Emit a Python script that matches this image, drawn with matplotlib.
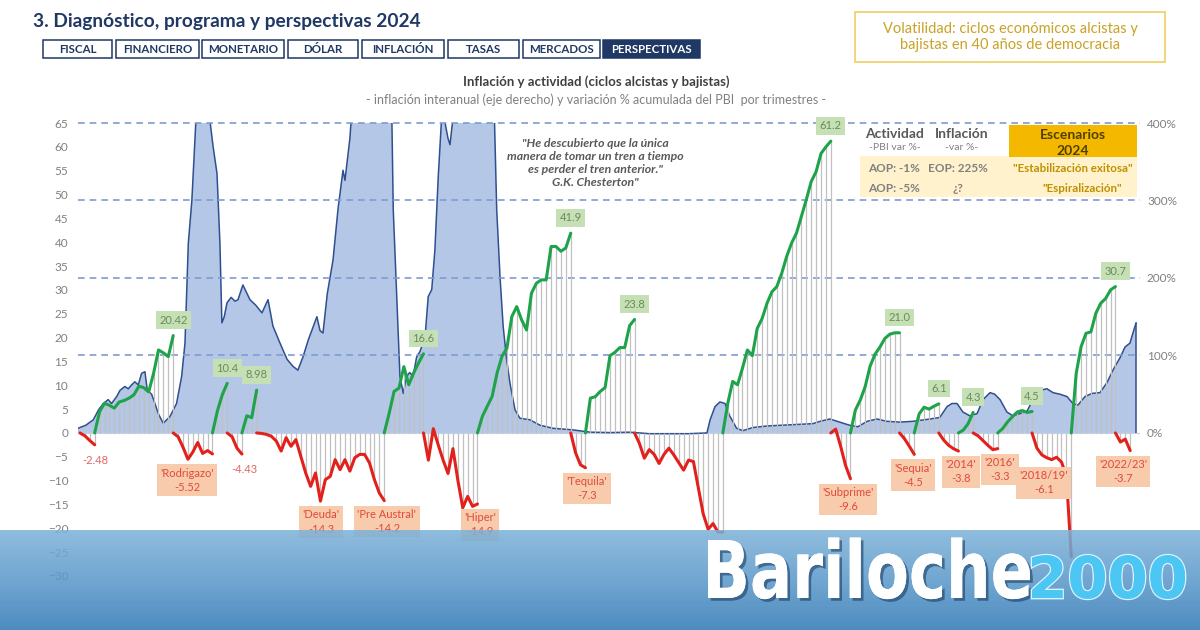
import matplotlib
matplotlib.use("Agg")
import matplotlib.pyplot as plt
import matplotlib.patheffects as pe
from matplotlib.patches import Rectangle, PathPatch
from matplotlib.colors import LinearSegmentedColormap
from matplotlib.textpath import TextPath
from matplotlib.font_manager import FontProperties
from matplotlib.transforms import Affine2D
from matplotlib import font_manager
import numpy as np

# inflacion interanual (%), eje derecho (valores > 400 quedan cortados)
infl_t = [1969.9, 1970.3, 1970.68, 1970.95, 1971.19, 1971.44, 1971.61, 1971.87, 1972.04, 1972.29,
          1972.46, 1972.63, 1972.8, 1972.97, 1973.14, 1973.31, 1973.43, 1973.65, 1973.82, 1973.99,
          1974.24, 1974.58, 1974.92, 1975.18, 1975.35, 1975.52, 1975.7, 1975.94, 1976.2, 1976.54,
          1976.78, 1976.98, 1977.13, 1977.23, 1977.35, 1977.49, 1977.7, 1977.9, 1978.05, 1978.3,
          1978.66, 1978.95, 1979.27, 1979.58, 1979.83, 1980.19, 1980.55, 1980.85, 1981.1, 1981.36,
          1981.63, 1982.07, 1982.23, 1982.38, 1982.6, 1982.89, 1983.15, 1983.4, 1983.5, 1983.75,
          1983.86, 1984.5, 1985.3, 1985.88, 1985.96, 1986.13, 1986.3, 1986.47, 1986.64, 1986.8,
          1986.97, 1987.15, 1987.32, 1987.58, 1987.74, 1987.92, 1988.08, 1988.25, 1988.43, 1988.6,
          1988.75, 1988.85, 1988.95, 1989.1, 1989.6, 1990.4, 1991.1, 1991.23, 1991.4, 1991.56,
          1991.74, 1991.9, 1992.16, 1992.41, 1992.92, 1993.43, 1994.1, 1995.1, 1996.0, 1997.0,
          1998.0, 1999.0, 2000.0, 2001.0, 2001.94, 2002.1, 2002.35, 2002.6, 2002.86, 2003.1,
          2003.45, 2003.77, 2004.28, 2005.0, 2005.8, 2006.68, 2007.34, 2007.7, 2008.2, 2008.7,
          2009.2, 2009.63, 2010.1, 2010.6, 2011.1, 2011.77, 2012.43, 2013.3, 2013.8, 2014.17,
          2014.42, 2014.68, 2014.98, 2015.34, 2015.7, 2016.0, 2016.36, 2016.6, 2016.87, 2017.22,
          2017.53, 2017.89, 2018.24, 2018.55, 2018.9, 2019.26, 2019.57, 2019.92, 2020.28, 2020.58,
          2020.84, 2021.2, 2021.55, 2021.96, 2022.32, 2022.62, 2022.98, 2023.24, 2023.49, 2023.64,
          2023.8]
infl_v = [6, 10, 17, 30, 38, 43, 38, 47, 55, 60,
          57, 62, 66, 62, 77, 79, 55, 50, 38, 25,
          12.5, 21, 38, 73, 116, 245, 300, 420, 600, 420,
          370, 335, 245, 142, 150, 168, 175, 170, 172, 191,
          172, 165, 155, 172, 138, 116, 95, 86, 81, 98,
          120, 150, 132, 129, 180, 223, 290, 339, 326, 380,
          420, 700, 900, 420, 288, 180, 73, 51, 73, 78,
          73, 98, 105, 124, 176, 185, 236, 330, 410, 400,
          380, 372, 395, 420, 3000, 1300, 420, 288, 201, 137,
          94, 65, 30, 19, 17, 10, 6, 4, 1, 0.5,
          1, -1, -1, -1, 0, 17, 34, 40, 38, 22,
          6, 3, 7, 9, 10, 11, 12, 15, 18, 14,
          10, 8, 15, 18, 15, 14, 15, 18, 20, 34,
          38, 38, 27, 22, 25, 43, 52, 50, 43, 27,
          22, 25, 28, 43, 55, 57, 52, 50, 47, 38,
          36, 47, 51, 52, 65, 81, 97, 111, 116, 129,
          142]

# ciclos de actividad: var % acumulada del PBI, trimestral (a = alcista, b = bajista)
cyc_start = [1970.0, 1970.75, 1974.75, 1976.75, 1977.5, 1978.25, 1979.0, 1985.5, 1987.5, 1990.25,
             1995.0, 1995.75, 1998.25, 2002.75, 2008.25, 2009.25, 2011.75, 2012.5, 2013.75, 2014.75,
             2015.5, 2016.75, 2018.5, 2020.5, 2022.75]
cyc_kind = ["b", "a", "b", "a", "b", "a", "b", "a", "b", "a",
            "b", "a", "b", "a", "b", "a", "b", "a", "b", "a",
            "b", "a", "b", "a", "b"]
cyc_vals = [
    [0, -0.6, -1.6, -2.48],
    [0, 4.5, 6.2, 5.8, 5.2, 6.5, 6.8, 7.3, 8.0, 9.8, 9.5, 8.6, 12.5, 17.4, 16.8, 16.0, 20.42],
    [0, -0.8, -3.0, -5.52, -4.0, -2.0, -4.3, -3.7, -4.4],
    [0, 4.6, 8.0, 10.4],
    [0, -0.8, -3.2, -4.43],
    [0, 3.6, 3.2, 8.98],
    [0, -0.1, -0.3, -0.7, -1.7, -3.8, -1.0, -2.8, -1.4, -4.9, -8.4, -11.2, -8.4, -14.3,
     -9.8, -9.1, -5.6, -7.7, -5.6, -8.0, -5.2, -4.5, -4.5, -6.3, -9.8, -12.6, -14.2],
    [0, 4.1, 8.7, 9.4, 13.9, 10.1, 12.6, 14.7, 16.6],
    [0, -5.7, 0.9, -2.5, -5.7, -8.5, -3.3, -9.9, -15.7, -13.3, -15.4, -14.9],
    [0, 3.5, 5.6, 7.7, 12.6, 16.1, 17.8, 24.4, 26.5, 23.7, 21.6, 29.3, 31.4, 32.1, 32.1,
     39.1, 39.1, 38.1, 38.8, 41.9],
    [0, -4.2, -6.7, -7.3],
    [0, 7.3, 7.6, 8.7, 9.5, 16.2, 16.9, 17.9, 17.9, 22.5, 23.8],
    [0, -2.2, -5.3, -3.5, -4.5, -6.4, -4.5, -3.2, -4.6, -6.2, -7.8, -5.7, -6.0, -11.5,
     -17.0, -20.2, -19.0, -20.8, -20.8],
    [0, 6.2, 10.8, 10.1, 13.6, 17.4, 16.2, 21.9, 24.0, 27.2, 29.6, 30.7, 33.5, 37.0, 39.8,
     41.9, 45.4, 48.9, 52.7, 54.8, 58.6, 60.0, 61.2],
    [0, 0.8, -2.8, -6.8, -9.6],
    [0, 4.8, 6.9, 9.7, 14.0, 16.5, 18.0, 19.8, 20.7, 21.0, 21.0],
    [0, -1.2, -2.8, -4.5],
    [0, 4.0, 5.4, 5.0, 5.6, 6.1],
    [0, -1.5, -2.6, -3.3, -3.8],
    [0, 0.6, 2.0, 4.3],
    [0, -0.6, -1.6, -2.6, -3.5, -3.3],
    [0, 0.9, 2.3, 3.4, 4.4, 4.7, 4.3, 4.5],
    [0, -3.2, -4.6, -5.2, -5.6, -5.1, -6.1, -9.0, -26.0],
    [0, 12.5, 18.1, 20.9, 21.2, 25.1, 27.2, 28.2, 30.0, 30.7],
    [0, -1.9, -1.3, -3.7],
]

# etiquetas de maximos (una por ciclo alcista)
up_labels = ["20.42", "10.4", "8.98", "16.6", "41.9", "23.8", "61.2", "21.0", "6.1", "4.3", "4.5", "30.7"]

# etiquetas de minimos
down_names = ["", "'Rodrigazo'", "", "'Deuda'", "'Pre Austral'", "'Hiper'", "'Tequila'",
              "'Subprime'", "'Sequia'", "'2014'", "'2016'", "'2018/19'", "'2022/23'"]
down_vals = ["-2.48", "-5.52", "-4.43", "-14.3", "-14.2", "-14.9", "-7.3",
             "-9.6", "-4.5", "-3.8", "-3.3", "-6.1", "-3.7"]
down_t = [1970.76, 1975.45, 1978.4, 1982.28, 1985.64, 1990.38, 1995.83,
          2009.12, 2012.43, 2014.88, 2016.87, 2019.1, 2023.13]

tabs = ["FISCAL", "FINANCIERO", "MONETARIO", "DÓLAR", "INFLACIÓN", "TASAS", "MERCADOS", "PERSPECTIVAS"]
years = list(range(1970, 2024))

names = {f.name for f in font_manager.fontManager.ttflist}
base = "Lato" if "Lato" in names else "DejaVu Sans"
plt.rcParams["font.family"] = [base, "DejaVu Sans"]

NAVY = "#1f3864"
GRAY = "#808080"
GREEN = "#1fa34a"
RED = "#e3211c"

W, H = 1200, 630
fig = plt.figure(figsize=(12, 6.3), dpi=100)


def P(x, y):
    return x / W, 1 - y / H


def logo_word(txt, left, right, base_y, cap, color, effects, weight="bold"):
    # texto del logo como trazado, estirado al ancho del original
    tp = TextPath((0, 0), txt, size=1, prop=FontProperties(family="DejaVu Sans", weight=weight))
    ext = tp.get_extents()
    sx = (right - left) / ext.width
    sy = cap / 0.729
    tr = Affine2D().translate(-ext.x0, 0).scale(sx / W, sy / H).translate(left / W, 1 - base_y / H)
    patch = PathPatch(tp, transform=tr + fig.transFigure, fc=color, ec="none", zorder=20,
                      path_effects=effects)
    fig.add_artist(patch)


# ---------- cabecera ----------
fig.text(*P(33, 21), "3. Diagnóstico, programa y perspectivas 2024", fontsize=13.8,
         fontweight="bold", color=NAVY, va="center", ha="left")

tab_x = [43, 116, 202, 288, 362, 448, 523, 603]
tab_w = [69, 83, 82, 70, 82, 71, 77, 97]
for name, x0, w in zip(tabs, tab_x, tab_w):
    last = name == "PERSPECTIVAS"
    fig.patches.append(Rectangle(P(x0, 58), w / W, 18 / H, transform=fig.transFigure,
                                 fc=NAVY if last else "white", ec=NAVY, lw=1.1))
    fig.text(*P(x0 + w / 2, 49.5), name, fontsize=8.3, fontweight="bold",
             color="white" if last else NAVY, ha="center", va="center")

fig.patches.append(Rectangle(P(855, 62), 310 / W, 50 / H, transform=fig.transFigure,
                             fc="white", ec="#f0d36e", lw=1.3))
fig.text(*P(1010, 37), "Volatilidad: ciclos económicos alcistas y\nbajistas en 40 años de democracia",
         fontsize=10.5, color="#c9a227", ha="center", va="center", linespacing=1.25)

fig.text(*P(596, 82), "Inflación y actividad (ciclos alcistas y bajistas)", fontsize=9.5,
         fontweight="bold", color="#404040", ha="center", va="center")
fig.text(*P(596, 100), "- inflación interanual (eje derecho) y variación % acumulada del PBI  por trimestres -",
         fontsize=9, color=GRAY, ha="center", va="center")

# ---------- grafico ----------
x_lo, x_hi = 1969.9, 2024.0
ax2 = fig.add_axes([78 / W, 54 / H, 1062 / W, 453 / H])
ax = ax2.twinx()
ax.set_zorder(ax2.get_zorder() + 1)
ax.patch.set_visible(False)

ax.set_ylim(-30, 65)
ax2.set_ylim(-30 * 100 / 16.25, 400)
ax2.set_xlim(x_lo, x_hi)
ax.set_xlim(x_lo, x_hi)

ax2.fill_between(infl_t, 0, infl_v, color="#b4c7e7", lw=0, zorder=1)
ax2.plot(infl_t, infl_v, color="#2f4f8f", lw=1.1, zorder=2)
ax2.vlines(infl_t[-1], 0, infl_v[-1], color="#2f4f8f", lw=1.1, zorder=2)
for g in [100, 200, 300, 400]:
    ax2.axhline(g, color="#7f9bd1", lw=1.2, ls=(0, (4, 3)), zorder=3, clip_on=False)
ax2.axhline(0, color="#c5d0e6", lw=0.8, zorder=0)

ups = []
for start, kind, vals in zip(cyc_start, cyc_kind, cyc_vals):
    t = start + 0.25 * np.arange(len(vals))
    ax.vlines(t, 0, vals, color="#c0c0c0", lw=0.9, zorder=1)
    ax.plot(t, vals, color=GREEN if kind == "a" else RED, lw=2.2, zorder=3,
            solid_capstyle="round", solid_joinstyle="round")
    if kind == "a":
        ups.append((t[-1], vals[-1]))

for (t, v), lab in zip(ups, up_labels):
    ax.annotate(lab, (t, v), xytext=(0, 11), textcoords="offset points", ha="center", va="center",
                fontsize=8, color="#6d8a5d", zorder=5,
                bbox=dict(boxstyle="square,pad=0.3", fc="#c5e0b4", ec="none"))

for name, val, t in zip(down_names, down_vals, down_t):
    if name:
        ax.annotate(name + "\n" + val, (t, float(val)), xytext=(0, -15), textcoords="offset points",
                    ha="center", va="center", fontsize=8, color="#e04a3a", linespacing=1.35, zorder=5,
                    bbox=dict(boxstyle="square,pad=0.3", fc="#f8cbad", ec="none"))
    else:
        ax.annotate(val, (t, float(val)), xytext=(0, -11), textcoords="offset points",
                    ha="center", va="center", fontsize=8, color="#e06666", zorder=5)

ax.set_yticks(range(-30, 66, 5))
ax.yaxis.tick_left()
ax.tick_params(axis="y", length=0, pad=7, labelsize=8.5, labelcolor=GRAY)
ax2.set_yticks([0, 100, 200, 300, 400])
ax2.set_yticklabels(["0%", "100%", "200%", "300%", "400%"])
ax2.yaxis.tick_right()
ax2.tick_params(axis="y", length=0, pad=5, labelsize=8.5, labelcolor=GRAY)
ax2.set_xticks(years)
ax2.set_xticklabels([str(y) for y in years], rotation=90)
ax2.tick_params(axis="x", length=0, pad=3, labelsize=7, labelcolor=GRAY)
ax.set_xticks([])
for a in (ax, ax2):
    for s in a.spines.values():
        s.set_visible(False)

# cita
fig.text(*P(595, 163), "\"He descubierto que la única\nmanera de tomar un tren a tiempo\n"
         "es perder el tren anterior.\"\nG.K. Chesterton\"", fontsize=8.8, fontweight="bold",
         style="italic", color="#595959", ha="center", va="center", linespacing=1.25)

# tabla de escenarios
fig.patches.append(Rectangle(P(860, 197), 277 / W, 41 / H, transform=fig.transFigure,
                             fc="#fff2cc", ec="none", zorder=4))
fig.patches.append(Rectangle(P(1009, 157), 128 / W, 32 / H, transform=fig.transFigure,
                             fc="#f5b800", ec="none", zorder=4))
kw = dict(ha="center", va="center", zorder=6)
fig.text(*P(895, 134), "Actividad", fontsize=10, fontweight="bold", color="#595959", **kw)
fig.text(*P(895, 147), "-PBI var %-", fontsize=7.5, color=GRAY, **kw)
fig.text(*P(962, 134), "Inflación", fontsize=10, fontweight="bold", color="#595959", **kw)
fig.text(*P(962, 147), "-var %-", fontsize=7.5, color=GRAY, **kw)
fig.text(*P(1073, 135), "Escenarios", fontsize=10, fontweight="bold", color="#4d4000", **kw)
fig.text(*P(1073, 151), "2024", fontsize=10, fontweight="bold", color="#4d4000", **kw)
for yy, a_, i_, s_ in [(169, "AOP: -1%", "EOP: 225%", "\"Estabilización exitosa\""),
                       (188, "AOP: -5%", "¿?", "\"Espiralización\"")]:
    fig.text(*P(894, yy), a_, fontsize=8.5, fontweight="bold", color=GRAY, **kw)
    fig.text(*P(958, yy), i_, fontsize=8.5, fontweight="bold", color=GRAY, **kw)
    fig.text(*P(1073 if yy == 169 else 1082, yy), s_, fontsize=8.3, fontweight="bold", color="#bf9000", **kw)

# ---------- franja inferior ----------
bax = fig.add_axes([0, 0, 1, 100 / H])
bax.set_zorder(10)
cmap = LinearSegmentedColormap.from_list("band", ["#3079b5", "#5a98ca", "#7db2d8"])
grad = np.linspace(0, 1, 100).reshape(-1, 1)
bax.imshow(grad, aspect="auto", cmap=cmap, origin="lower", extent=[0, 1, 0, 1], alpha=0.86)
bax.set_xlim(0, 1)
bax.set_ylim(0, 1)
bax.axis("off")

logo_word("Bariloche", 708, 1030, 598, 58, "white",
          [pe.withSimplePatchShadow(offset=(2, -2), shadow_rgbFace="#1c3f66", alpha=0.6), pe.Normal()])
logo_word("2000", 1032, 1185, 598, 42, "#4cc6f2",
          [pe.withStroke(linewidth=2, foreground="#d9f3ff"), pe.Normal()])

fig.savefig("out.png", dpi=100)
